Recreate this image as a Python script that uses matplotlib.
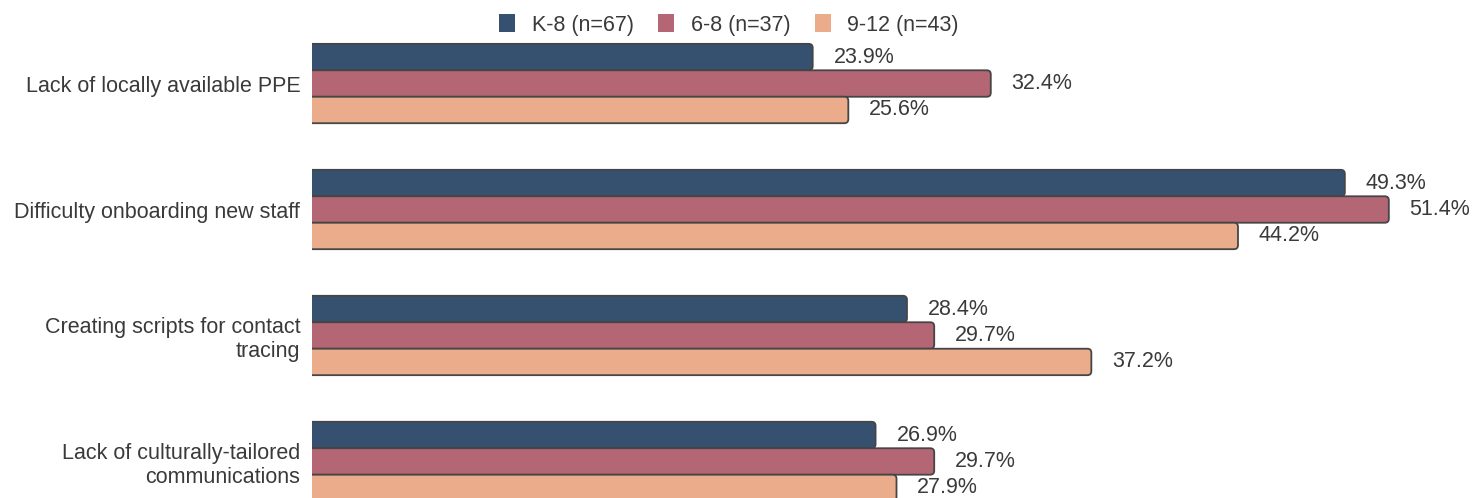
import matplotlib.pyplot as plt
import numpy as np
from matplotlib.patches import FancyBboxPatch, Patch

plt.rcParams['font.family'] = ['Liberation Sans', 'DejaVu Sans']

# Survey data: share of schools reporting each challenge, by grade band
challenges = [
    'Lack of locally available PPE',
    'Difficulty onboarding new staff',
    'Creating scripts for contact\ntracing',
    'Lack of culturally-tailored\ncommunications',
]
series_names = ['K-8 (n=67)', '6-8 (n=37)', '9-12 (n=43)']
k8 = [23.9, 49.3, 28.4, 26.9]
g68 = [32.4, 51.4, 29.7, 29.7]
g912 = [25.6, 44.2, 37.2, 27.9]

colors = ['#36506f', '#b56674', '#eaac8b']
edge = '#454545'
text_color = '#3a3a3a'


def round_bars(ax, bars, radius_px, px_per_x, px_per_y):
    # swap plain rectangles for rounded boxes of the same size;
    # the box starts left of the axis so only the right end shows rounded
    hidden = 12 / px_per_x
    for rect in bars:
        box = FancyBboxPatch(
            (rect.get_x() - hidden, rect.get_y()),
            rect.get_width() + hidden, rect.get_height(),
            boxstyle=f'round,pad=0,rounding_size={radius_px / px_per_x}',
            mutation_aspect=px_per_x / px_per_y,
            facecolor=rect.get_facecolor(), edgecolor=edge, linewidth=1.3,
            clip_on=True)
        rect.remove()
        ax.add_patch(box)


def main():
    fig = plt.figure(figsize=(14.72, 4.98), dpi=100)
    ax = fig.add_axes([312 / 1472, 0, 1 - 312 / 1472, 1])

    y = np.arange(len(challenges))
    h = 0.21
    xmax = 55.37
    px_per_x = 1160 / xmax
    px_per_y = 126

    for i, (vals, col) in enumerate(zip([k8, g68, g912], colors)):
        bars = ax.barh(y + (i - 1) * h, vals, height=h, color=col)
        for yy, v in zip(y + (i - 1) * h, vals):
            ax.annotate(f'{v:.1f}%', (v, yy), xytext=(15, 0),
                        textcoords='offset points', va='center', ha='left',
                        fontsize=15.5, color=text_color)
        round_bars(ax, bars, 4, px_per_x, px_per_y)

    ax.set_xlim(0, xmax)
    ax.set_ylim(3.29, -0.663)
    ax.set_yticks(y)
    ax.set_yticklabels(challenges, fontsize=15.5, color=text_color)
    ax.tick_params(axis='y', length=0, pad=8.5)
    ax.set_xticks([])
    for s in ax.spines.values():
        s.set_visible(False)

    handles = [Patch(facecolor=c, edgecolor='none') for c in colors]
    fig.legend(handles, series_names, loc='upper center',
               bbox_to_anchor=(729 / 1472, 1.01), ncol=3, frameon=False,
               fontsize=15.5, labelcolor=text_color, handlelength=0.75,
               handleheight=0.9, handletextpad=0.75, columnspacing=1.15)

    fig.savefig('out.png', dpi=100)


if __name__ == '__main__':
    main()
